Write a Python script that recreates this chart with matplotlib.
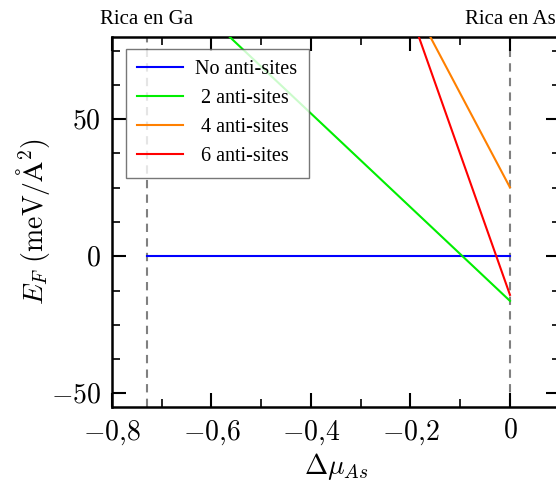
import matplotlib
matplotlib.use("Agg")
import matplotlib.pyplot as plt
from matplotlib.ticker import MultipleLocator, FuncFormatter

plt.rcParams['mathtext.fontset'] = 'cm'
plt.rcParams['font.family'] = ['Liberation Serif', 'DejaVu Serif']

# Data
mu_range = [-0.73, 0.0]  # Ga-rich limit to As-rich limit
labels = ['No anti-sites', '2 anti-sites', '4 anti-sites', '6 anti-sites']
colors = ['#0000ff', '#00ee00', '#ff8000', '#ff0000']
E_at_ga_rich = [0.0, 108.5, 275.5, 361.1]
E_at_as_rich = [0.0, -16.3, 25.1, -14.1]
xticks = [-0.8, -0.6, -0.4, -0.2, 0.0]
yticks = [-50, 0, 50]

fig = plt.figure(figsize=(5.56, 4.95), dpi=100)
ax = fig.add_axes([0.2014, 0.1778, 0.8053, 0.7475])

for x0 in mu_range:
    ax.axvline(x0, color='#808080', ls=(0, (4, 3)), lw=1.5, zorder=1)

for lab, c, y0, y1 in zip(labels, colors, E_at_ga_rich, E_at_as_rich):
    ax.plot(mu_range, [y0, y1], color=c, lw=1.5, label=lab, zorder=3)

ax.set_xlim(-0.8, 0.1)
ax.set_ylim(-55, 80)
ax.set_xticks(xticks)
ax.set_yticks(yticks)
ax.xaxis.set_minor_locator(MultipleLocator(0.1))
ax.yaxis.set_minor_locator(MultipleLocator(12.5))

def fx(v, p):
    if abs(v) < 1e-9:
        return r'$0$'
    s = f'{v:.1f}'.replace('-', '').replace('.', '{,}')
    return r'$-' + s + '$' if v < 0 else r'$' + s + '$'

def fy(v, p):
    iv = int(round(v))
    return r'$-%d$' % (-iv) if iv < 0 else r'$%d$' % iv

ax.xaxis.set_major_formatter(FuncFormatter(fx))
ax.yaxis.set_major_formatter(FuncFormatter(fy))

ax.tick_params(which='both', direction='in', top=True, right=True, labelsize=20)
ax.tick_params(axis='x', which='both', pad=8)
ax.tick_params(axis='y', which='both', pad=8)
ax.tick_params(which='major', length=10, width=1.5)
ax.tick_params(which='minor', length=6, width=1.2)
for s in ax.spines.values():
    s.set_linewidth(1.8)

ax.set_xlabel(r'$\Delta\mu_{As}$', fontsize=20, labelpad=3)
ax.set_ylabel(r'$E_F\ (\mathrm{meV}/\mathrm{\AA}^2)$', fontsize=20, labelpad=-1)

ax.text(mu_range[0], 1.022, 'Rica en Ga', transform=ax.get_xaxis_transform(),
        ha='center', va='bottom', fontsize=15)
ax.text(mu_range[1], 1.022, 'Rica en As', transform=ax.get_xaxis_transform(),
        ha='center', va='bottom', fontsize=15)

leg = ax.legend(loc='upper left', bbox_to_anchor=(0.031, 0.968), fontsize=14.5,
                frameon=True, fancybox=False, edgecolor='#555555',
                handlelength=2.3, borderpad=0.55, labelspacing=0.5,
                handletextpad=0.6, borderaxespad=0)
leg.get_frame().set_linewidth(1.0)

# center the legend labels within their column
fig.canvas.draw()
texts = leg.get_texts()
widths = [t.get_window_extent().width for t in texts]
wmax = max(widths)
for t, w in zip(texts, widths):
    t.set_x((wmax - w) / 2.0 * 72.0 / fig.dpi)

fig.savefig('out.png', dpi=100)
